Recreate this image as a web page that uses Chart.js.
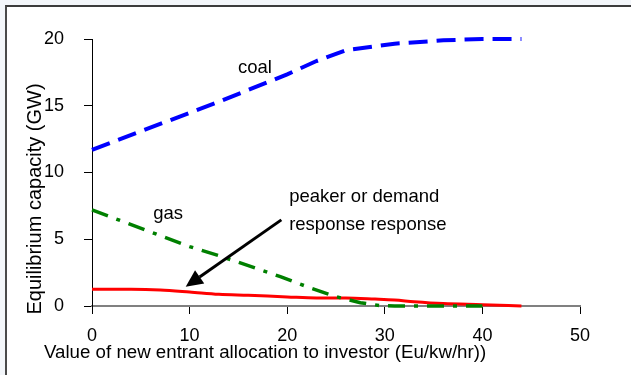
<!DOCTYPE html>
<html>
<head>
<meta charset="utf-8">
<script src="https://cdn.jsdelivr.net/npm/chart.js@4/dist/chart.umd.min.js"></script>
<style>
  html, body { margin: 0; padding: 0; background: #f3f6fa; }
  #frame {
    position: absolute; left: 5px; top: 5px; width: 626px; height: 370px;
    background: #ffffff; border-top: 2px solid #3c3c3c; border-left: 2px solid #4a4a4a;
    box-sizing: border-box;
  }
  #wrap { position: absolute; left: 0; top: 0; width: 631px; height: 375px; }
</style>
</head>
<body>
<div id="frame"></div>
<div id="wrap"><canvas id="chart" width="631" height="375"></canvas></div>
<script>
// Allocation to investor (Eu/kw/hr) and equilibrium capacity (GW) per technology
const coalX = [0, 13, 20, 23, 26, 31, 36, 40, 44];
const coalY = [11.7, 15.3, 17.35, 18.35, 19.15, 19.65, 19.9, 20.0, 20.0];

const gasX = [0, 10, 13.3, 19.3, 22.2, 25, 27.5, 29.5, 31, 35, 40];
const gasY = [7.2, 4.45, 3.7, 2.2, 1.4, 0.7, 0.25, 0.03, 0, 0, 0];

const peakerX = [0, 4, 7, 10, 13, 16, 20, 23, 26, 29, 31, 33, 36, 40, 44];
const peakerY = [1.25, 1.25, 1.2, 1.05, 0.88, 0.8, 0.68, 0.6, 0.6, 0.52, 0.45, 0.32, 0.18, 0.1, 0.0];

const xTicks = [0, 10, 20, 30, 40, 50];
const yTicks = [0, 5, 10, 15, 20];

const xTitle = 'Value of new entrant allocation to investor (Eu/kw/hr))';
const yTitle = 'Equilibrium capacity (GW)';

// In-plot labels, placed in data units
const notes = [
  { text: 'coal', x: 16.7, y: 17.8, align: 'center' },
  { text: 'gas', x: 7.8, y: 6.9, align: 'center' },
  { text: 'peaker or demand', x: 20.2, y: 8.2, align: 'left' },
  { text: 'response response', x: 20.2, y: 6.1, align: 'left' }
];
const arrowFrom = { x: 19.4, y: 6.45 };
const arrowTo = { x: 9.6, y: 1.45 };

const FONT = '"Liberation Sans", Arial, sans-serif';

function pts(xs, ys) { return xs.map((x, i) => ({ x: x, y: ys[i] })); }

const notesPlugin = {
  id: 'notes',
  afterDatasetsDraw(chart) {
    const { ctx, scales: { x, y } } = chart;
    ctx.save();
    ctx.fillStyle = '#000';
    ctx.font = '18.5px ' + FONT;
    ctx.textBaseline = 'middle';
    notes.forEach(n => {
      ctx.textAlign = n.align;
      ctx.fillText(n.text, x.getPixelForValue(n.x), y.getPixelForValue(n.y));
    });

    // arrow pointing at the peaker / demand response curve
    const x0 = x.getPixelForValue(arrowFrom.x), y0 = y.getPixelForValue(arrowFrom.y);
    const x1 = x.getPixelForValue(arrowTo.x), y1 = y.getPixelForValue(arrowTo.y);
    const ang = Math.atan2(y1 - y0, x1 - x0);
    const headLen = 17, headW = 8;
    const bx = x1 - headLen * Math.cos(ang), by = y1 - headLen * Math.sin(ang);
    ctx.strokeStyle = '#000';
    ctx.lineWidth = 3;
    ctx.beginPath();
    ctx.moveTo(x0, y0);
    ctx.lineTo(bx, by);
    ctx.stroke();
    ctx.beginPath();
    ctx.moveTo(x1, y1);
    ctx.lineTo(bx + headW * Math.sin(ang), by - headW * Math.cos(ang));
    ctx.lineTo(bx - headW * Math.sin(ang), by + headW * Math.cos(ang));
    ctx.closePath();
    ctx.fill();

    // axis titles
    ctx.font = '18.7px ' + FONT;
    ctx.textAlign = 'left';
    ctx.textBaseline = 'middle';
    ctx.fillText(xTitle, 44, 353);
    ctx.save();
    ctx.translate(35, 199);
    ctx.rotate(-Math.PI / 2);
    ctx.textAlign = 'center';
    ctx.font = '20px ' + FONT;
    ctx.fillText(yTitle, 0, 0);
    ctx.restore();
    ctx.restore();
  }
};

new Chart(document.getElementById('chart'), {
  type: 'line',
  data: {
    datasets: [
      {
        label: 'coal', data: pts(coalX, coalY),
        borderColor: '#0000ff', borderWidth: 4, borderDash: [19, 9],
        pointRadius: 0, tension: 0, clip: 6
      },
      {
        label: 'gas', data: pts(gasX, gasY),
        borderColor: '#008000', borderWidth: 3.5, borderDash: [17, 9, 4, 9],
        pointRadius: 0, tension: 0, clip: 6
      },
      {
        label: 'peaker or demand response', data: pts(peakerX, peakerY),
        borderColor: '#ff0000', borderWidth: 3,
        pointRadius: 0, cubicInterpolationMode: 'monotone', clip: 6
      }
    ]
  },
  options: {
    responsive: false,
    animation: false,
    devicePixelRatio: 1,
    layout: { padding: { top: 39, right: 51, left: 0, bottom: 0 } },
    plugins: { legend: { display: false }, tooltip: { enabled: false }, title: { display: false } },
    scales: {
      x: {
        type: 'linear', min: 0, max: 50,
        afterFit(s) { s.height = 69; },
        afterBuildTicks(s) { s.ticks = xTicks.map(v => ({ value: v })); },
        grid: { drawOnChartArea: false, color: '#000', tickLength: 8, tickWidth: 1 },
        border: { color: '#808080', width: 2 },
        ticks: { color: '#000', font: { family: FONT, size: 18 }, padding: 11, maxRotation: 0 }
      },
      y: {
        type: 'linear', min: 0, max: 20,
        afterFit(s) { s.width = 92; },
        afterBuildTicks(s) { s.ticks = yTicks.map(v => ({ value: v })); },
        grid: { drawOnChartArea: false, color: '#000', tickLength: 8, tickWidth: 1 },
        border: { color: '#000', width: 1 },
        ticks: { color: '#000', font: { family: FONT, size: 18 }, padding: 20 }
      }
    }
  },
  plugins: [notesPlugin]
});
</script>
</body>
</html>
